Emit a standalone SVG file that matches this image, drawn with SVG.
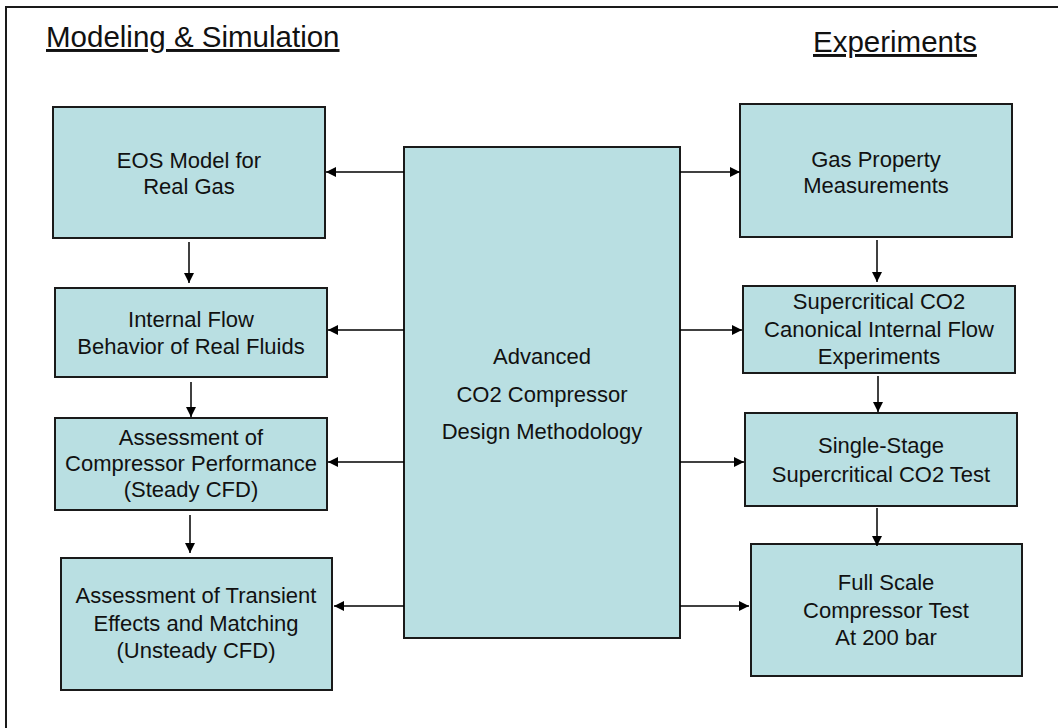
<svg xmlns="http://www.w3.org/2000/svg" width="1058" height="728" viewBox="0 0 1058 728">
<defs>
<style>
.box{fill:#B9DFE2;stroke:#1a1a1a;stroke-width:2}
.t{font-family:"Liberation Sans",Arial,sans-serif;font-size:22px;fill:#111;text-anchor:middle}
.h{font-family:"Liberation Sans",Arial,sans-serif;font-size:29.5px;fill:#111;text-decoration:underline}
.c{stroke:#000;stroke-width:1.5;fill:none;marker-end:url(#ah)}
</style>
<marker id="ah" markerUnits="userSpaceOnUse" markerWidth="12" markerHeight="12" refX="10" refY="5" orient="auto">
<path d="M0,0 L10,5 L0,10 Z" fill="#000"/>
</marker>
</defs>
<rect width="1058" height="728" fill="#fff"/>
<path d="M6,728 V7 H1058" fill="none" stroke="#1a1a1a" stroke-width="2"/>
<g id="titles">
<text class="h" x="46" y="47">Modeling &amp; Simulation</text>
<text class="h" x="813" y="52">Experiments</text>
</g>
<g id="center">
<rect class="box" x="404" y="147" width="276" height="491"/>
<text class="t" x="542" y="364">Advanced</text>
<text class="t" x="542" y="402">CO2 Compressor</text>
<text class="t" x="542" y="439">Design Methodology</text>
</g>
<g id="eos">
<rect class="box" x="53" y="107" width="272" height="131"/>
<text class="t" x="189" y="168">EOS Model for</text>
<text class="t" x="189" y="194">Real Gas</text>
</g>
<g id="internal-flow">
<rect class="box" x="55" y="288" width="272" height="89"/>
<text class="t" x="191" y="327">Internal Flow</text>
<text class="t" x="191" y="354">Behavior of Real Fluids</text>
</g>
<g id="steady">
<rect class="box" x="55" y="418" width="272" height="92"/>
<text class="t" x="191" y="445">Assessment of</text>
<text class="t" x="191" y="471">Compressor Performance</text>
<text class="t" x="191" y="497">(Steady CFD)</text>
</g>
<g id="transient">
<rect class="box" x="61" y="558" width="271" height="132"/>
<text class="t" x="196" y="603">Assessment of Transient</text>
<text class="t" x="196" y="631">Effects and Matching</text>
<text class="t" x="196" y="658">(Unsteady CFD)</text>
</g>
<g id="gas-property">
<rect class="box" x="740" y="104" width="272" height="133"/>
<text class="t" x="876" y="167">Gas Property</text>
<text class="t" x="876" y="193">Measurements</text>
</g>
<g id="canonical">
<rect class="box" x="743" y="286" width="272" height="87"/>
<text class="t" x="879" y="309">Supercritical CO2</text>
<text class="t" x="879" y="337">Canonical Internal Flow</text>
<text class="t" x="879" y="364">Experiments</text>
</g>
<g id="single-stage">
<rect class="box" x="745" y="413" width="272" height="93"/>
<text class="t" x="881" y="453">Single-Stage</text>
<text class="t" x="881" y="482">Supercritical CO2 Test</text>
</g>
<g id="full-scale">
<rect class="box" x="751" y="544" width="271" height="132"/>
<text class="t" x="886" y="590">Full Scale</text>
<text class="t" x="886" y="618">Compressor Test</text>
<text class="t" x="886" y="645">At 200 bar</text>
</g>
<g id="connectors">
<line class="c" x1="404" y1="172" x2="326" y2="172"/>
<line class="c" x1="404" y1="330" x2="328" y2="330"/>
<line class="c" x1="404" y1="462" x2="328" y2="462"/>
<line class="c" x1="404" y1="606" x2="334" y2="606"/>
<line class="c" x1="680" y1="172" x2="740" y2="172"/>
<line class="c" x1="680" y1="330" x2="742" y2="330"/>
<line class="c" x1="680" y1="462" x2="744" y2="462"/>
<line class="c" x1="680" y1="606" x2="749" y2="606"/>
<line class="c" x1="189" y1="242" x2="189" y2="283"/>
<line class="c" x1="191" y1="382" x2="191" y2="417"/>
<line class="c" x1="190" y1="515" x2="190" y2="553"/>
<line class="c" x1="877" y1="240" x2="877" y2="282"/>
<line class="c" x1="878" y1="376" x2="878" y2="412"/>
<line class="c" x1="877" y1="508" x2="877" y2="546"/>
</g>
</svg>
